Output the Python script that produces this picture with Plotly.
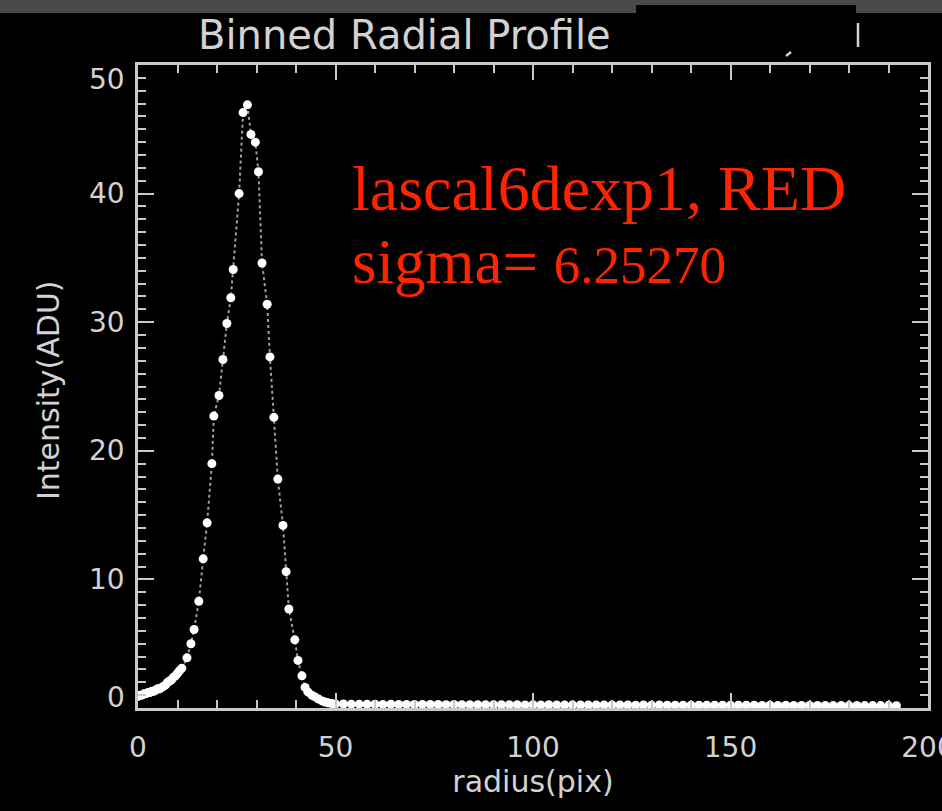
import plotly.graph_objects as go

# ---- data ----
radius_inner = [0.0, 0.5, 1.0, 1.5, 2.0, 2.5, 3.0, 3.5, 4.0, 4.5, 5.0, 5.5,
                6.0, 6.5, 7.0, 7.5, 8.0, 8.5, 9.0, 9.5, 10.0, 10.5]
intens_inner = [0.9, 1.0, 1.0, 1.1, 1.1, 1.2, 1.2, 1.3, 1.3, 1.4, 1.5, 1.5,
                1.6, 1.7, 1.8, 2.0, 2.1, 2.2, 2.4, 2.5, 2.7, 2.9]

radius_peak = [11.1, 12.4, 13.4, 14.2, 15.4, 16.5, 17.5, 18.7, 19.2, 20.5,
               21.5, 22.5, 23.5, 24.1, 25.6, 26.6, 27.7, 28.6, 29.7, 30.5,
               31.4, 32.7, 33.4, 34.4, 35.4, 36.7, 37.5, 38.2, 39.7, 40.5,
               41.5, 42.3, 43.0, 44.0, 44.8, 45.7, 46.6, 47.4, 48.1, 49.0]
intens_peak = [3.1, 3.9, 5.0, 6.1, 8.3, 11.6, 14.4, 19.0, 22.7, 24.3,
               27.1, 29.9, 31.9, 34.1, 40.0, 46.3, 46.9, 44.6, 44.0, 41.7,
               34.6, 31.4, 27.3, 22.6, 17.8, 14.2, 10.6, 7.7, 5.3, 3.7,
               2.5, 1.6, 1.25, 1.0, 0.86, 0.7, 0.55, 0.47, 0.4, 0.35]

radius_tail = [50, 52, 54, 56, 58, 60, 62, 64, 66, 68, 70, 72, 74, 76, 78,
               80, 82, 84, 86, 88, 90, 92, 94, 96, 98, 100, 102, 104, 106,
               108, 110, 112, 114, 116, 118, 120, 122, 124, 126, 128, 130,
               132, 134, 136, 138, 140, 142, 144, 146, 148, 150, 152, 154,
               156, 158, 160, 162, 164, 166, 168, 170, 172, 174, 176, 178,
               180, 182, 184, 186, 188, 190, 192]
intens_tail = [0.32, 0.31, 0.30, 0.30, 0.29, 0.29, 0.28, 0.29, 0.28, 0.28,
               0.27, 0.28, 0.27, 0.27, 0.26, 0.27, 0.26, 0.26, 0.26, 0.25,
               0.26, 0.25, 0.25, 0.25, 0.24, 0.25, 0.24, 0.25, 0.24, 0.24,
               0.24, 0.23, 0.24, 0.23, 0.24, 0.23, 0.23, 0.23, 0.22, 0.23,
               0.22, 0.23, 0.22, 0.22, 0.22, 0.22, 0.21, 0.22, 0.21, 0.22,
               0.21, 0.21, 0.21, 0.21, 0.20, 0.21, 0.20, 0.21, 0.20, 0.20,
               0.20, 0.20, 0.20, 0.19, 0.20, 0.19, 0.20, 0.19, 0.19, 0.19,
               0.19, 0.18]

radius = radius_inner + radius_peak + radius_tail
intensity = intens_inner + intens_peak + intens_tail

x_ticks = [0, 50, 100, 150, 200]
y_ticks = [0, 10, 20, 30, 40, 50]
y_tick_labels = ["0", "10", "20", "30", "40", "50"]

title_text = "Binned Radial Profile"
label_line1 = "lascal6dexp1, RED"
label_sigma = "sigma="
label_sigma_val = "6.25270"

# ---- layout geometry (pixels) ----
W, H = 942, 811
L, R, T, B = 138, 14, 65, 103
PW, PH = W - L - R, H - T - B


def px(xp):
    return (xp - L) / PW


def py(yp):
    return (H - B - yp) / PH


AX = "#c8c8c8"
TXT = "#d2d2d2"
RED = "#ff2400"
TICKFONT = dict(family="DejaVu Sans", size=28, color=TXT)

fig = go.Figure()
fig.add_trace(go.Scatter(
    x=radius, y=intensity, mode="lines+markers",
    line=dict(color="rgba(225,225,225,0.7)", width=2, dash="dot"),
    marker=dict(color="white", size=9, line=dict(width=0)),
    showlegend=False, hoverinfo="x+y",
))

axis_common = dict(
    showgrid=False, zeroline=False, showline=True, linewidth=3,
    linecolor=AX, mirror="allticks", ticks="inside", tickwidth=2,
    tickcolor=AX,
)

fig.update_xaxes(
    range=[0, 200], tickvals=x_ticks, ticklen=15,
    minor=dict(dtick=10, ticklen=8, tickwidth=2, tickcolor=AX, ticks="inside"),
    title=dict(text="radius(pix)", font=dict(family="DejaVu Sans", size=30, color=TXT),
               standoff=8),
    tickfont=TICKFONT, ticklabelstandoff=12, ticklabeloverflow="allow",
    **axis_common,
)
fig.update_yaxes(
    range=[0, 50], tickvals=y_ticks, ticklen=16, showticklabels=False,
    minor=dict(dtick=1, ticklen=8, tickwidth=2, tickcolor=AX, ticks="inside"),
    **axis_common,
)

shapes = [
    # grey window band at the top
    dict(type="rect", xref="paper", yref="paper", x0=px(0), x1=px(W), y0=py(13), y1=py(-2),
         fillcolor="#4a4a4a", line=dict(width=0), layer="above"),
    # black box masking part of the title
    dict(type="rect", xref="paper", yref="paper", x0=px(636), x1=px(856), y0=py(52), y1=py(5),
         fillcolor="black", line=dict(width=0), layer="above"),
    # remnant strokes of masked title text
    dict(type="line", xref="paper", yref="paper", x0=px(858), x1=px(858), y0=py(47), y1=py(23),
         line=dict(color=TXT, width=2.5), layer="above"),
    dict(type="line", xref="paper", yref="paper", x0=px(786), x1=px(791), y0=py(56), y1=py(52),
         line=dict(color=TXT, width=2.5), layer="above"),
]

annotations = [
    dict(text=title_text, xref="paper", yref="paper", x=px(196), y=py(35),
         xanchor="left", yanchor="middle", showarrow=False,
         font=dict(family="DejaVu Sans", size=40, color=TXT)),
    dict(text="Intensity(ADU)", xref="paper", yref="paper", x=px(48), y=py(390),
         xanchor="center", yanchor="middle", showarrow=False, textangle=-90,
         font=dict(family="DejaVu Sans", size=30, color=TXT)),
    dict(text=label_line1, xref="paper", yref="paper", x=px(350), y=py(188),
         xanchor="left", yanchor="middle", showarrow=False,
         font=dict(family="Liberation Serif", size=64, color=RED)),
    dict(text=label_sigma + " <span style='font-size:53px'>" + label_sigma_val + "</span>",
         xref="paper", yref="paper", x=px(350), y=py(262),
         xanchor="left", yanchor="middle", showarrow=False,
         font=dict(family="Liberation Serif", size=63, color=RED)),
]

# y tick labels (IDL style: end labels pulled inside the axis range)
for v, lab in zip(y_ticks, y_tick_labels):
    shift = 0
    if v == y_ticks[-1]:
        shift = -14
    elif v == y_ticks[0]:
        shift = 11
    annotations.append(dict(
        text=lab, xref="paper", yref="y", x=px(127), y=v, yshift=shift,
        xanchor="right", yanchor="middle", showarrow=False, font=TICKFONT))

fig.update_layout(
    width=W, height=H, margin=dict(l=L, r=R, t=T, b=B, autoexpand=False),
    paper_bgcolor="black", plot_bgcolor="black",
    shapes=shapes, annotations=annotations,
)

fig.write_html("out.html")
